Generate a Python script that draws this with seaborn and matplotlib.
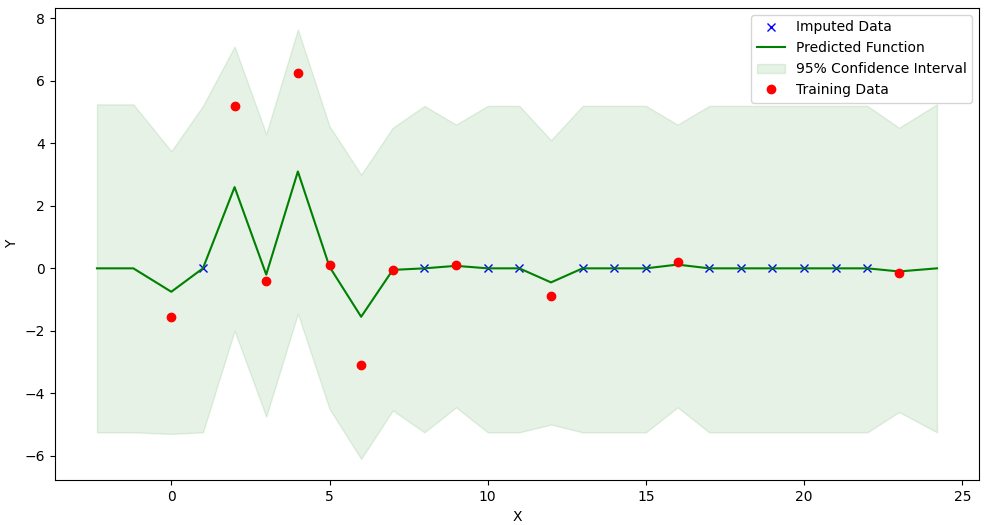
import numpy as np
import pandas as pd
import matplotlib
matplotlib.use("Agg")
import matplotlib.pyplot as plt
import seaborn as sns

# predicted function and confidence band
x_pred = [-2.35, -1.2, 0, 1, 2, 3, 4, 5, 6, 7, 8, 9, 10, 11, 12, 13, 14, 15, 16,
          17, 18, 19, 20, 21, 22, 23, 24.2]
y_pred = [0, 0, -0.75, 0, 2.6, -0.2, 3.1, 0.05, -1.55, -0.05, 0, 0.08, 0, 0, -0.45,
          0, 0, 0, 0.12, 0, 0, 0, 0, 0, 0, -0.1, 0]
y_upper = [5.25, 5.25, 3.75, 5.2, 7.1, 4.3, 7.65, 4.55, 3.0, 4.5, 5.2, 4.6, 5.2, 5.2,
           4.1, 5.2, 5.2, 5.2, 4.6, 5.2, 5.2, 5.2, 5.2, 5.2, 5.2, 4.5, 5.25]
y_lower = [-5.25, -5.25, -5.3, -5.25, -2.0, -4.75, -1.45, -4.5, -6.1, -4.55, -5.25,
           -4.45, -5.25, -5.25, -5.0, -5.25, -5.25, -5.25, -4.45, -5.25, -5.25, -5.25,
           -5.25, -5.25, -5.25, -4.6, -5.25]

# observed training points
x_train = [0, 2, 3, 4, 5, 6, 7, 9, 12, 16, 23]
y_train = [-1.55, 5.2, -0.4, 6.25, 0.1, -3.1, -0.05, 0.1, -0.9, 0.2, -0.15]

# imputed points
x_imp = [1, 8, 10, 11, 13, 14, 15, 17, 18, 19, 20, 21, 22]
y_imp = [0] * len(x_imp)

df_pred = pd.DataFrame({"x": x_pred, "y": y_pred})

fig, ax = plt.subplots(figsize=(9.99, 5.25), dpi=100)
ax.plot(x_imp, y_imp, "bx", label="Imputed Data")
sns.lineplot(data=df_pred, x="x", y="y", color="green", label="Predicted Function", ax=ax)
ax.fill_between(x_pred, y_lower, y_upper, color="green", alpha=0.1,
                label="95% Confidence Interval")
ax.plot(x_train, y_train, "ro", label="Training Data")

ax.set_xlabel("X")
ax.set_ylabel("Y")
ax.legend(loc="upper right")
fig.subplots_adjust(left=0.055, right=0.98, top=0.985, bottom=0.085)
fig.savefig("out.png")
